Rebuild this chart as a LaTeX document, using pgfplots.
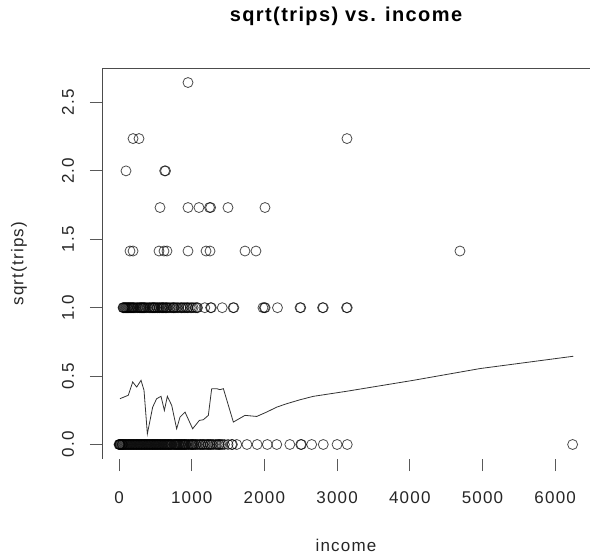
\documentclass[border=0pt]{standalone}
\usepackage{fontspec}
\setmainfont{Liberation Sans}[LetterSpace=7]
\usepackage{pgfplots}
\pgfplotsset{compat=1.18}
\begin{document}
\begin{tikzpicture}
\begin{axis}[
  at={(0,0)}, anchor=south west,
  scale only axis, width=488pt, height=391pt,
  xmin=-234, xmax=6479, ymin=-0.106, ymax=2.752,
  xtick={0,1000,2000,3000,4000,5000,6000},
  xticklabels={0,1000,2000,3000,4000,5000,6000},
  ytick={0,0.5,1,1.5,2,2.5},
  yticklabels={0.0,0.5,1.0,1.5,2.0,2.5},
  xtick pos=bottom, ytick pos=left,
  tick align=outside, major tick length=12pt,
  tick style={black!65, line width=0.8pt},
  axis line style={draw=none},
  /pgf/number format/assume math mode=true,
  ticklabel style={font=\fontsize{17}{17}\selectfont, text=black!85},
  xticklabel style={anchor=center, yshift=-27pt},
  yticklabel style={xshift=-22pt, rotate=90, anchor=center},
  title={sqrt(trips) vs. income},
  title style={font=\fontsize{20}{20}\bfseries\selectfont, at={(axis description cs:0.5,1.1176)}, anchor=center},
  xlabel={income},
  xlabel style={font=\fontsize{17}{17}\selectfont, text=black!85, at={(axis description cs:0.5,-0.220)}, anchor=center},
  ylabel={sqrt(trips)},
  ylabel style={font=\fontsize{17}{17}\selectfont, text=black!85, at={(axis description cs:-0.170,0.5)}, anchor=center},
  every axis plot/.append style={mark options={draw=black, draw opacity=0.7, line width=0.8pt}},
]
\draw[black!70, line width=0.9pt] (rel axis cs:1,0) -- (rel axis cs:0,0) -- (rel axis cs:0,1) -- (rel axis cs:1,1);
% y = 0
\addplot[only marks, mark=o, mark size=5pt] coordinates {
(0,0) (5,0) (10,0) (15,0) (20,0) (30,0) (40,0) (45,0) (50,0) (60,0) (70,0) (80,0) (90,0) (100,0) (110,0) (120,0) (130,0) (140,0) (150,0) (160,0) (170,0) (180,0) (190,0) (200,0) (210,0) (220,0) (230,0) (240,0) (250,0) (260,0) (270,0) (280,0) (290,0) (300,0) (310,0) (320,0) (330,0) (340,0) (350,0) (360,0) (370,0) (380,0) (390,0) (400,0) (410,0) (420,0) (430,0) (440,0) (450,0) (460,0) (470,0) (480,0) (490,0) (500,0) (510,0) (520,0) (530,0) (540,0) (550,0) (560,0) (570,0) (580,0) (590,0) (600,0) (610,0) (620,0) (630,0) (640,0) (650,0) (660,0) (670,0) (680,0) (690,0) (700,0) (710,0) (720,0) (730,0) (750,0) (760,0) (770,0) (780,0) (790,0) (800,0) (810,0) (820,0) (830,0) (840,0) (850,0) (860,0) (870,0) (880,0) (890,0) (900,0) (910,0) (920,0) (930,0) (950,0) (960,0) (980,0) (990,0) (1000,0) (1010,0) (1020,0) (1030,0) (1050,0) (1060,0) (1080,0) (1100,0) (1120,0) (1130,0) (1150,0) (1160,0) (1180,0) (1200,0) (1220,0) (1230,0) (1250,0) (1260,0) (1280,0) (1300,0) (1330,0) (1350,0) (1370,0) (1380,0) (1400,0) (1420,0) (1450,0) (1500,0) (1550,0) (1560,0) (1620,0) (1760,0) (1900,0) (2040,0) (2170,0) (2350,0) (2500,0) (2510,0) (2650,0) (2810,0) (3000,0) (3140,0) (6240,0)
};
% y = 1
\addplot[only marks, mark=o, mark size=5pt] coordinates {
(55,1) (60,1) (70,1) (80,1) (90,1) (100,1) (110,1) (120,1) (130,1) (140,1) (150,1) (160,1) (170,1) (180,1) (190,1) (200,1) (210,1) (230,1) (250,1) (260,1) (280,1) (290,1) (300,1) (310,1) (320,1) (330,1) (340,1) (350,1) (360,1) (380,1) (400,1) (420,1) (430,1) (450,1) (460,1) (470,1) (480,1) (490,1) (500,1) (520,1) (530,1) (550,1) (560,1) (580,1) (590,1) (600,1) (610,1) (620,1) (640,1) (650,1) (660,1) (680,1) (700,1) (720,1) (740,1) (750,1) (760,1) (780,1) (800,1) (820,1) (850,1) (860,1) (880,1) (900,1) (920,1) (940,1) (950,1) (980,1) (1000,1) (1020,1) (1050,1) (1070,1) (1080,1) (1180,1) (1260,1) (1270,1) (1420,1) (1570,1) (1580,1) (1980,1) (2000,1) (2010,1) (2180,1) (2490,1) (2500,1) (2800,1) (2810,1) (3130,1) (3140,1)
};
% y = sqrt(2)
\addplot[only marks, mark=o, mark size=5pt] coordinates {
(151,1.4142) (193,1.4142) (550,1.4142) (619,1.4142) (660,1.4142) (949,1.4142) (1197,1.4142) (1252,1.4142) (1733,1.4142) (1884,1.4142) (4690,1.4142)
};
% y = sqrt(3)
\addplot[only marks, mark=o, mark size=5pt] coordinates {
(564,1.7321) (949,1.7321) (1100,1.7321) (1245,1.7321) (1260,1.7321) (1499,1.7321) (2008,1.7321)
};
% y = 2, sqrt(5), sqrt(7)
\addplot[only marks, mark=o, mark size=5pt] coordinates {
(96,2) (628,2) (640,2) (193,2.2361) (275,2.2361) (3136,2.2361) (949,2.6458)
};
% lowess line
\addplot[black!80, line width=0.8pt] coordinates {
(14,0.335) (128,0.36) (188,0.457) (243,0.42) (303,0.469) (344,0.396) (390,0.078) (463,0.273) (518,0.335) (578,0.352) (624,0.249) (665,0.352) (725,0.286) (793,0.115) (839,0.2) (908,0.237) (1013,0.115) (1105,0.176) (1160,0.181) (1229,0.213) (1275,0.408) (1344,0.408) (1389,0.401) (1436,0.408) (1573,0.164) (1733,0.213) (1894,0.205) (2031,0.237) (2169,0.273) (2306,0.298) (2490,0.327) (2673,0.352) (3131,0.389) (4048,0.469) (4966,0.555) (6249,0.645)
};
\end{axis}
\pgfresetboundingbox
\useasboundingbox (-102pt,-95pt) rectangle (488pt,459pt);
\end{tikzpicture}
\end{document}
